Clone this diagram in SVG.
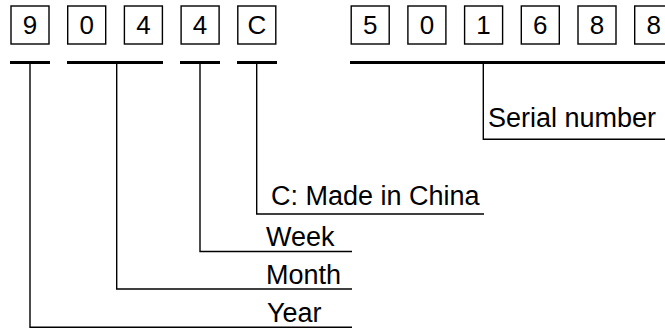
<svg xmlns="http://www.w3.org/2000/svg" width="665" height="329" viewBox="0 0 665 329">
<style>
.box{fill:#fff;stroke:#000;stroke-width:1.4}
.dig{font-family:"Liberation Sans",Arial,sans-serif;font-size:26px;fill:#000;text-anchor:middle}
.lbl{font-family:"Liberation Sans",Arial,sans-serif;font-size:27px;fill:#000}
.bar{stroke:#000;stroke-width:3;fill:none}
.ln{stroke:#000;stroke-width:1.4;fill:none}
</style>
<rect width="665" height="329" fill="#fff"/>
<g id="d1"><rect class="box" x="11" y="6" width="38" height="38"/><text class="dig" x="30" y="34">9</text></g>
<g id="d2"><rect class="box" x="67.7" y="6" width="38" height="38"/><text class="dig" x="86.7" y="34">0</text></g>
<g id="d3"><rect class="box" x="124.4" y="6" width="38" height="38"/><text class="dig" x="143.4" y="34">4</text></g>
<g id="d4"><rect class="box" x="181.1" y="6" width="38" height="38"/><text class="dig" x="200.1" y="34">4</text></g>
<g id="d5"><rect class="box" x="237.8" y="6" width="38" height="38"/><text class="dig" x="256.8" y="34">C</text></g>
<g id="s1"><rect class="box" x="351.2" y="6" width="38" height="38"/><text class="dig" x="370.2" y="34">5</text></g>
<g id="s2"><rect class="box" x="407.9" y="6" width="38" height="38"/><text class="dig" x="426.9" y="34">0</text></g>
<g id="s3"><rect class="box" x="464.6" y="6" width="38" height="38"/><text class="dig" x="483.6" y="34">1</text></g>
<g id="s4"><rect class="box" x="521.3" y="6" width="38" height="38"/><text class="dig" x="540.3" y="34">6</text></g>
<g id="s5"><rect class="box" x="578" y="6" width="38" height="38"/><text class="dig" x="597" y="34">8</text></g>
<g id="s6"><rect class="box" x="634.7" y="6" width="38" height="38"/><text class="dig" x="653.7" y="34">8</text></g>
<g id="connectors">
<line class="bar" x1="10" y1="62.5" x2="50" y2="62.5"/>
<line class="bar" x1="67" y1="62.5" x2="163" y2="62.5"/>
<line class="bar" x1="180" y1="62.5" x2="220" y2="62.5"/>
<line class="bar" x1="237" y1="62.5" x2="277" y2="62.5"/>
<line class="bar" x1="350" y1="62.5" x2="665" y2="62.5"/>
<polyline class="ln" points="483.3,62.5 483.3,139.3 665,139.3"/>
<polyline class="ln" points="256.7,62.5 256.7,214 484,214"/>
<polyline class="ln" points="200,62.5 200,251.5 352,251.5"/>
<polyline class="ln" points="116.7,62.5 116.7,289 352,289"/>
<polyline class="ln" points="30,62.5 30,327.3 352,327.3"/>
</g>
<g id="serial"><text class="lbl" x="488" y="127">Serial number</text></g>
<g id="china"><text class="lbl" x="271" y="205">C: Made in China</text></g>
<g id="week"><text class="lbl" x="266" y="246">Week</text></g>
<g id="month"><text class="lbl" x="266" y="284">Month</text></g>
<g id="year"><text class="lbl" x="267" y="322">Year</text></g>
</svg>
